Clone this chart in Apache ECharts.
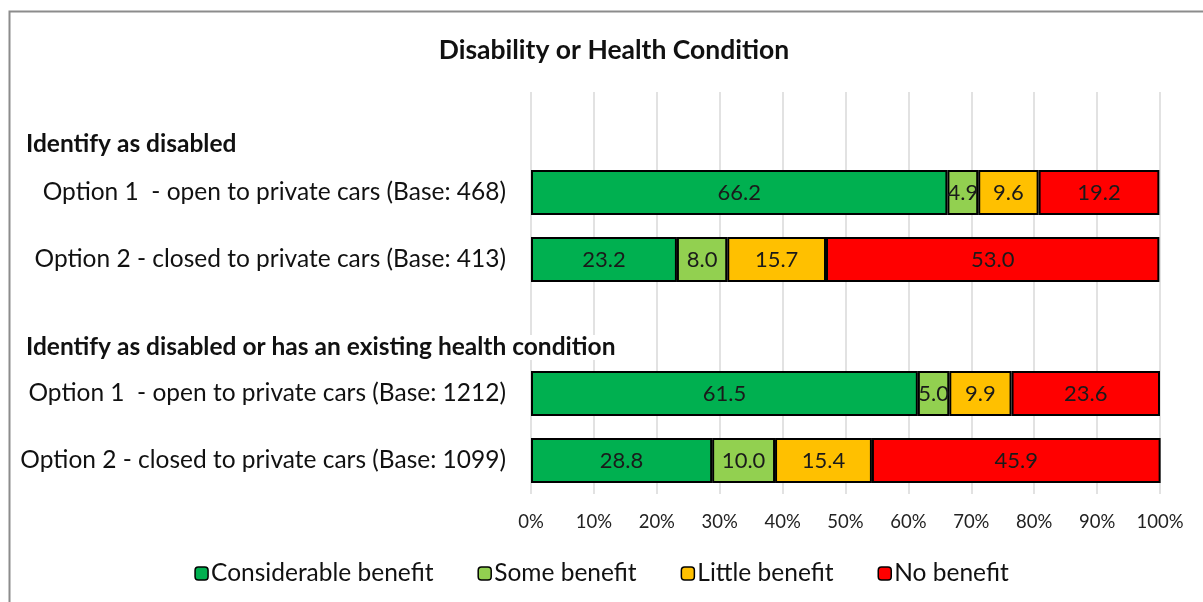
<!DOCTYPE html>
<html>
<head>
<meta charset="utf-8">
<script src="https://cdn.jsdelivr.net/npm/echarts@6/dist/echarts.min.js"></script>
<style>
  html, body { margin: 0; padding: 0; background: #fff; }
  #chart { width: 1203px; height: 602px; }
</style>
</head>
<body>
<div id="chart"></div>
<script>
  // rows top to bottom; blank rows hold the group headings
  var categories = [
    '',
    'Option 1  - open to private cars (Base: 468)',
    'Option 2 - closed to private cars (Base: 413)',
    '',
    'Option 1  - open to private cars (Base: 1212)',
    'Option 2 - closed to private cars (Base: 1099)'
  ]
  var groupTitles = ['Identify as disabled', 'Identify as disabled or has an existing health condition']
  var considerable = [null, 66.2, 23.2, null, 61.5, 28.8]
  var some = [null, 4.9, 8.0, null, 5.0, 10.0]
  var little = [null, 9.6, 15.7, null, 9.9, 15.4]
  var none = [null, 19.2, 53.0, null, 23.6, 45.9]
  var seriesNames = ['Considerable benefit', 'Some benefit', 'Little benefit', 'No benefit']
  var colors = ['#00B050', '#92D050', '#FFC000', '#FF0000']

  var font = 'Lato, "Open Sans", sans-serif'

  function barSeries (name, data, color) {
    return {
      name: name,
      type: 'bar',
      stack: 'total',
      barWidth: 45,
      data: data,
      itemStyle: { color: color, borderColor: '#000', borderWidth: 2 },
      label: {
        show: true,
        position: 'inside',
        color: '#1a1a1a',
        fontSize: 22,
        fontFamily: font,
        formatter: function (p) { return p.value == null ? '' : p.value.toFixed(1) }
      }
    }
  }

  var chart = echarts.init(document.getElementById('chart'))
  chart.setOption({
    animation: false,
    backgroundColor: '#fff',
    title: {
      text: 'Disability or Health Condition',
      left: 609,
      top: 32,
      textAlign: 'center',
      textStyle: { fontFamily: font, fontSize: 26.5, fontWeight: 'bold', color: '#111' }
    },
    grid: { left: 531, right: 43, top: 92, bottom: 108 },
    legend: {
      bottom: 11,
      left: 'center',
      itemWidth: 13,
      itemHeight: 13,
      itemGap: 44,
      data: seriesNames.map(function (n, i) {
        return { name: n, itemStyle: { color: colors[i], borderColor: '#000', borderWidth: 1.5 } }
      }),
      textStyle: { fontFamily: font, fontSize: 24.5, color: '#111', padding: [0, 0, 0, -2] }
    },
    xAxis: {
      type: 'value',
      min: 0,
      max: 100,
      interval: 10,
      axisLabel: {
        formatter: '{value}%',
        fontFamily: font,
        fontSize: 18.5,
        color: '#222',
        margin: 19
      },
      axisLine: { show: false },
      axisTick: { show: false },
      splitLine: { lineStyle: { color: '#d9d9d9', width: 1.5 } }
    },
    yAxis: {
      type: 'category',
      inverse: true,
      data: categories,
      axisLine: { show: false },
      axisTick: { show: false },
      axisLabel: { fontFamily: font, fontSize: 24.5, color: '#111', margin: 25 }
    },
    graphic: [
      { type: 'rect', left: 7, top: 9, shape: { width: 1210, height: 610 }, style: { fill: 'none', stroke: '#8c8c8c', lineWidth: 2 } },
      { type: 'text', z: 100, left: 26, top: 132, style: { text: groupTitles[0], fontFamily: font, fontSize: 24.5, fontWeight: 'bold', fill: '#111', backgroundColor: '#fff' } },
      { type: 'text', z: 100, left: 26, top: 335, style: { text: groupTitles[1], fontFamily: font, fontSize: 24.5, fontWeight: 'bold', fill: '#111', backgroundColor: '#fff' } }
    ],
    series: [
      barSeries(seriesNames[0], considerable, colors[0]),
      barSeries(seriesNames[1], some, colors[1]),
      barSeries(seriesNames[2], little, colors[2]),
      barSeries(seriesNames[3], none, colors[3])
    ]
  })
  window.addEventListener('resize', function () { chart.resize() })
</script>
</body>
</html>
